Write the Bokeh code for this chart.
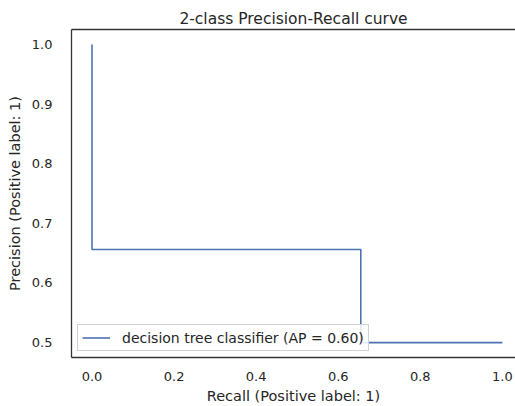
from bokeh.plotting import figure
from bokeh.models import (Range1d, Legend, LegendItem, FixedTicker,
                          PrintfTickFormatter, LinearAxis)
from bokeh.embed import file_html
from bokeh.resources import INLINE

# Precision-recall operating points (recall descending, drawn as steps-post)
recall_pts = [1.0, 0.655, 0.0]
precision_pts = [0.5, 0.656, 1.0]
ap_label = "decision tree classifier (AP = 0.60)"

x_ticks = [0.0, 0.2, 0.4, 0.6, 0.8, 1.0]
y_ticks = [0.5, 0.6, 0.7, 0.8, 0.9, 1.0]

FONT = "DejaVu Sans"
TEXT = "#262626"
EDGE = "#333333"

p = figure(
    width=515, height=406,
    frame_width=444, frame_height=328,
    min_border_left=71, min_border_right=0,
    min_border_top=29, min_border_bottom=49,
    x_range=Range1d(-0.05, 1.032), y_range=Range1d(0.475, 1.025),
    output_backend="svg", toolbar_location=None,
    title="2-class Precision-Recall curve",
)

r = p.step(recall_pts, precision_pts, mode="after",
           line_color="#4c72b0", line_width=1.6)

p.title.text_font = FONT
p.title.text_font_size = "15.5px"
p.title.text_font_style = "normal"
p.title.text_color = TEXT
p.title.align = "center"
p.title.offset = 4
p.title.standoff = 4

p.xgrid.visible = False
p.ygrid.visible = False
p.outline_line_color = None

xax = p.below[0]
yax = p.left[0]

for ax in (xax, yax):
    ax.axis_line_color = EDGE
    ax.axis_line_width = 1.3
    ax.major_tick_line_color = None
    ax.minor_tick_line_color = None
    ax.major_label_text_font = FONT
    ax.major_label_text_font_size = "13px"
    ax.major_label_text_color = TEXT
    ax.axis_label_text_font = FONT
    ax.axis_label_text_font_size = "14.5px"
    ax.axis_label_text_font_style = "normal"
    ax.axis_label_text_color = TEXT
    ax.formatter = PrintfTickFormatter(format="%.1f")

xax.ticker = FixedTicker(ticks=x_ticks)
yax.ticker = FixedTicker(ticks=y_ticks)
xax.axis_label = "Recall (Positive label: 1)"
yax.axis_label = "Precision (Positive label: 1)"
xax.major_label_standoff = 8
yax.major_label_standoff = 13
xax.axis_label_standoff = 4
yax.axis_label_standoff = 6

# spine along the top edge (the right edge runs past the page)
top = LinearAxis(major_label_text_font_size="0px",
                 major_label_standoff=0,
                 major_tick_line_color=None, minor_tick_line_color=None,
                 major_tick_out=0, minor_tick_out=0,
                 axis_line_color=EDGE, axis_line_width=1.3,
                 ticker=FixedTicker(ticks=[]))
p.add_layout(top, "above")

legend = Legend(
    items=[LegendItem(label=ap_label, renderers=[r])],
    location="bottom_left",
    margin=6, padding=4, spacing=0,
    glyph_width=28, glyph_height=17, label_height=17,
    label_standoff=12,
    label_text_font=FONT, label_text_font_size="14px",
    label_text_color=TEXT,
    border_line_color="#cccccc", border_line_alpha=0.9,
    background_fill_color="white", background_fill_alpha=0.85,
)
p.add_layout(legend, "center")

open("out.html", "w").write(file_html(p, INLINE))
